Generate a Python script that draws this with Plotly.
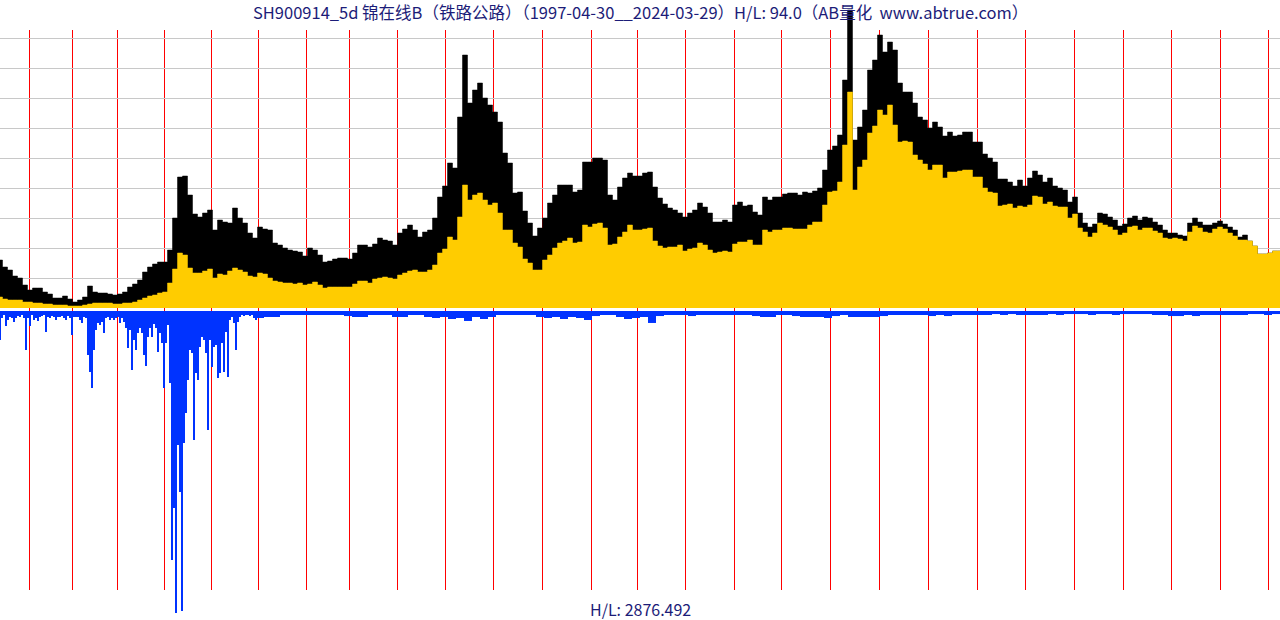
import plotly.graph_objects as go

# ---------------- data ----------------
CODE = "SH900914_5d"
NAME = "锦在线B"
SECTOR = "铁路公路"
START, END = "1997-04-30", "2024-03-29"
HL_PRICE = 94.0
VOL_MAX = 2876.492

# upper (black) and lower (yellow) price series, one value every 5 bars
price_hi = [
    0.48, 0.41, 0.38, 0.32, 0.30, 0.23, 0.18, 0.20, 0.20, 0.16,
    0.14, 0.10, 0.10, 0.12, 0.09, 0.06, 0.08, 0.11, 0.22, 0.16,
    0.15, 0.15, 0.14, 0.13, 0.14, 0.16, 0.21, 0.24, 0.28, 0.36,
    0.41, 0.44, 0.46, 0.46, 0.58, 0.90, 1.31, 1.32, 1.13, 0.94,
    0.91, 0.95, 0.98, 0.78, 0.88, 0.86, 0.85, 1.00, 0.90, 0.85,
    0.75, 0.70, 0.81, 0.79, 0.78, 0.65, 0.63, 0.60, 0.58, 0.57,
    0.56, 0.52, 0.60, 0.58, 0.53, 0.46, 0.47, 0.49, 0.50, 0.50,
    0.49, 0.55, 0.63, 0.63, 0.61, 0.64, 0.70, 0.68, 0.67, 0.63,
    0.75, 0.79, 0.83, 0.78, 0.71, 0.76, 0.78, 0.90, 1.11, 1.22,
    1.45, 1.40, 1.91, 2.53, 2.05, 2.18, 2.25, 2.10, 2.03, 1.96,
    1.86, 1.55, 1.45, 1.15, 1.16, 0.97, 0.85, 0.72, 0.80, 0.90,
    1.05, 1.13, 1.23, 1.23, 1.23, 1.16, 1.18, 1.46, 1.46, 1.50,
    1.50, 1.48, 1.13, 1.08, 1.21, 1.30, 1.35, 1.32, 1.32, 1.35,
    1.36, 1.21, 1.10, 1.04, 1.00, 0.98, 0.95, 0.91, 0.95, 0.98,
    1.05, 1.01, 0.95, 0.86, 0.86, 0.88, 0.86, 1.03, 1.06, 1.02,
    1.03, 0.96, 0.93, 1.11, 1.08, 1.11, 1.11, 1.14, 1.15, 1.15,
    1.13, 1.16, 1.15, 1.17, 1.20, 1.38, 1.58, 1.62, 1.73, 2.28,
    2.98, 1.68, 1.81, 1.98, 2.38, 2.48, 2.73, 2.56, 2.66, 2.58,
    2.25, 2.16, 2.16, 2.05, 1.91, 1.88, 1.80, 1.86, 1.81, 1.72,
    1.76, 1.72, 1.73, 1.76, 1.76, 1.66, 1.66, 1.54, 1.50, 1.46,
    1.29, 1.29, 1.26, 1.22, 1.28, 1.22, 1.30, 1.37, 1.33, 1.26,
    1.30, 1.22, 1.20, 1.18, 1.06, 1.11, 0.95, 0.85, 0.81, 0.84,
    0.95, 0.94, 0.91, 0.88, 0.82, 0.84, 0.90, 0.92, 0.88, 0.91,
    0.90, 0.86, 0.83, 0.78, 0.75, 0.75, 0.73, 0.72, 0.85, 0.90,
    0.86, 0.83, 0.83, 0.85, 0.87, 0.84, 0.81, 0.78, 0.71, 0.73,
    0.67, 0.62, 0.54, 0.54, 0.55, 0.57, 0.57,
]

price_lo = [
    0.11, 0.09, 0.08, 0.08, 0.08, 0.06, 0.06, 0.05, 0.05, 0.04,
    0.04, 0.03, 0.03, 0.03, 0.02, 0.02, 0.02, 0.03, 0.04, 0.05,
    0.05, 0.05, 0.05, 0.04, 0.04, 0.05, 0.05, 0.06, 0.08, 0.10,
    0.12, 0.13, 0.15, 0.16, 0.25, 0.39, 0.55, 0.53, 0.40, 0.35,
    0.35, 0.37, 0.39, 0.30, 0.34, 0.33, 0.37, 0.40, 0.38, 0.36,
    0.32, 0.31, 0.35, 0.34, 0.30, 0.27, 0.26, 0.25, 0.25, 0.24,
    0.25, 0.23, 0.24, 0.26, 0.23, 0.20, 0.21, 0.21, 0.21, 0.21,
    0.21, 0.24, 0.27, 0.27, 0.25, 0.29, 0.30, 0.31, 0.30, 0.29,
    0.33, 0.35, 0.37, 0.38, 0.36, 0.36, 0.38, 0.43, 0.55, 0.59,
    0.71, 0.68, 0.91, 1.23, 1.08, 1.13, 1.15, 1.08, 1.03, 1.05,
    0.95, 0.78, 0.78, 0.65, 0.61, 0.49, 0.45, 0.38, 0.38, 0.48,
    0.53, 0.60, 0.65, 0.67, 0.70, 0.65, 0.66, 0.83, 0.81, 0.84,
    0.85, 0.80, 0.63, 0.64, 0.71, 0.76, 0.83, 0.78, 0.78, 0.79,
    0.80, 0.67, 0.62, 0.60, 0.61, 0.61, 0.63, 0.57, 0.59, 0.60,
    0.65, 0.63, 0.58, 0.55, 0.56, 0.57, 0.56, 0.64, 0.66, 0.66,
    0.68, 0.63, 0.63, 0.78, 0.76, 0.78, 0.78, 0.80, 0.80, 0.79,
    0.79, 0.79, 0.83, 0.86, 0.86, 1.03, 1.16, 1.17, 1.26, 1.63,
    2.16, 1.18, 1.41, 1.48, 1.75, 1.82, 1.98, 1.93, 2.03, 1.83,
    1.66, 1.67, 1.66, 1.53, 1.48, 1.44, 1.38, 1.43, 1.43, 1.30,
    1.36, 1.36, 1.37, 1.38, 1.38, 1.31, 1.31, 1.20, 1.16, 1.15,
    1.02, 1.03, 1.04, 1.00, 1.02, 1.01, 1.03, 1.12, 1.11, 1.04,
    1.06, 1.02, 1.01, 1.01, 0.90, 0.94, 0.80, 0.76, 0.71, 0.75,
    0.85, 0.83, 0.81, 0.78, 0.73, 0.75, 0.81, 0.82, 0.78, 0.80,
    0.80, 0.77, 0.75, 0.70, 0.69, 0.70, 0.69, 0.67, 0.76, 0.82,
    0.80, 0.76, 0.75, 0.79, 0.81, 0.79, 0.75, 0.72, 0.68, 0.68,
    0.67, 0.62, 0.54, 0.54, 0.55, 0.57, 0.57,
]

# volume, early period (one value every 2 bars)
vol_early = [
    276, 67, 38, 143, 86, 57, 67, 105, 67, 48,
    57, 38, 67, 371, 67, 143, 38, 86, 67, 95,
    57, 48, 38, 200, 57, 67, 48, 57, 86, 57,
    57, 48, 67, 86, 48, 67, 229, 57, 57, 57,
    86, 114, 57, 67, 419, 581, 733, 371, 181, 114,
    133, 105, 210, 67, 57, 86, 67, 86, 67, 57,
    114, 67, 105, 162, 352, 181, 562, 276, 371, 210,
    162, 210, 419, 524, 248, 162, 248, 124, 162, 390,
    210, 305, 733, 305, 133, 686, 2371, 1876, 2876.492, 1276,
    1724, 2857, 1257, 972, 657, 371, 400, 1229, 591, 657,
    343, 248, 276, 400, 1133, 276, 533, 343, 324, 638,
    591, 305, 581, 200, 629, 86, 57, 114, 371, 105,
    57, 38, 48, 38, 38, 48, 38, 67, 86, 48,
]

# volume, later period (one value every 8 bars)
vol_late = [
    67, 57, 57, 38, 38, 38, 38, 38, 38, 38,
    38, 48, 57, 57, 38, 38, 38, 57, 57, 38,
    38, 57, 67, 57, 76, 67, 95, 57, 76, 57,
    38, 38, 38, 38, 38, 57, 67, 57, 76, 57,
    67, 86, 48, 38, 38, 57, 76, 67, 57, 114,
    48, 38, 38, 38, 48, 38, 38, 38, 38, 38,
    38, 38, 48, 57, 57, 38, 38, 48, 57, 57,
    57, 67, 48, 38, 57, 57, 57, 57, 48, 38,
    38, 38, 38, 38, 48, 38, 48, 38, 38, 38,
    38, 38, 29, 38, 29, 38, 38, 38, 38, 29,
    38, 29, 29, 29, 38, 29, 29, 38, 29, 29,
    29, 29, 38, 38, 48, 48, 38, 48, 38, 38,
    38, 38, 38, 38, 29, 29, 38, 29,
]

# bar index where each calendar year starts
year_labels = list(range(1998, 2025))
year_start_bar = [29, 72, 117, 164, 211, 258, 306, 349, 397, 445, 493, 542, 591,
                  637, 685, 734, 781, 830, 879, 928, 977, 1025, 1074, 1123,
                  1171, 1220, 1268]

# ---------------- layout constants ----------------
W, H = 1280, 620
N_BARS = 1280
PRICE_ZERO_PX = 308
PRICE_PX_PER_UNIT = 100.0
VOL_ZERO_PX = 311
VOL_DEPTH_PX = 302
LINE_TOP_PX, LINE_BOT_PX = 30, 590
GRID_STEP = 0.3
TEXT_COLOR = "#1c1c78"
FONT = "Noto Sans CJK SC, Noto Sans, sans-serif"

x_price = [i * 5 for i in range(len(price_hi))]
x_vol_early = [i * 2 for i in range(len(vol_early))]
x_vol_late = [260 + i * 8 for i in range(len(vol_late))]

price_range = [-(H - PRICE_ZERO_PX) / PRICE_PX_PER_UNIT, PRICE_ZERO_PX / PRICE_PX_PER_UNIT]
s = VOL_DEPTH_PX / VOL_MAX
vol_range = [-(H - VOL_ZERO_PX) / s, VOL_ZERO_PX / s]

fig = go.Figure()

fig.add_trace(go.Scatter(
    x=x_price, y=price_hi, mode="lines", fill="tozeroy", line_shape="hvh",
    line=dict(color="#000000", width=0.5), fillcolor="#000000",
    hoverinfo="skip"))
fig.add_trace(go.Scatter(
    x=x_price, y=price_lo, mode="lines", fill="tozeroy", line_shape="hvh",
    line=dict(color="#ffcc00", width=0.5), fillcolor="#ffcc00",
    hoverinfo="skip"))

fig.add_trace(go.Bar(
    x=x_vol_early, y=[-v for v in vol_early], width=2, yaxis="y2",
    marker=dict(color="#0033ff", line=dict(width=0)), hoverinfo="skip"))
fig.add_trace(go.Bar(
    x=x_vol_late, y=[-v for v in vol_late], width=8, yaxis="y2",
    marker=dict(color="#0033ff", line=dict(width=0)), hoverinfo="skip"))

shapes = []
for k in range(1, 10):
    yv = k * GRID_STEP - 0.5 / PRICE_PX_PER_UNIT
    shapes.append(dict(type="line", xref="x", yref="y", x0=0, x1=N_BARS,
                       y0=yv, y1=yv, line=dict(color="#c8c8c8", width=1),
                       layer="below"))
for b in year_start_bar:
    shapes.append(dict(type="line", xref="x", yref="paper", x0=b + 0.5, x1=b + 0.5,
                       y0=1 - LINE_TOP_PX / H, y1=1 - LINE_BOT_PX / H,
                       line=dict(color="#ff0000", width=1), layer="below"))

title = (f"{CODE} {NAME}（{SECTOR}）（{START}__{END}）H/L: {HL_PRICE:.1f}"
         f"（AB量化  www.abtrue.com）")

fig.update_layout(
    width=W, height=H, autosize=False,
    margin=dict(l=0, r=0, t=0, b=0, pad=0),
    paper_bgcolor="white", plot_bgcolor="white",
    showlegend=False, barmode="overlay",
    xaxis=dict(range=[0, N_BARS], visible=False, fixedrange=True),
    yaxis=dict(range=price_range, visible=False, fixedrange=True),
    yaxis2=dict(range=vol_range, visible=False, overlaying="y", fixedrange=True),
    shapes=shapes,
    annotations=[
        dict(text=title, x=0.5, y=1 - 12 / H, xref="paper", yref="paper",
             showarrow=False, xanchor="center", yanchor="middle", borderpad=0,
             font=dict(family=FONT, size=16.5, color=TEXT_COLOR)),
        dict(text=f"H/L: {VOL_MAX}", x=0.5, y=1 - 609 / H, xref="paper", yref="paper",
             showarrow=False, xanchor="center", yanchor="middle", borderpad=0,
             font=dict(family=FONT, size=16, color=TEXT_COLOR)),
    ],
)

fig.write_html("out.html", config={"displayModeBar": False})
